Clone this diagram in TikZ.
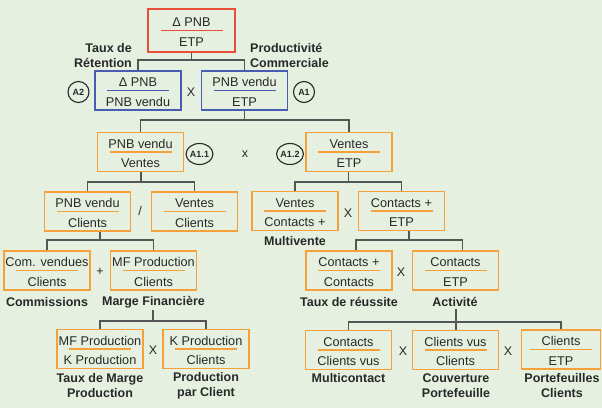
\documentclass[tikz,border=0pt]{standalone}
\usepackage{fontspec}
\setmainfont{Liberation Sans}
\usetikzlibrary{calc,shapes.geometric}
\definecolor{bg}{RGB}{230,240,225}
\definecolor{redb}{RGB}{232,78,58}
\definecolor{blueb}{RGB}{72,92,178}
\definecolor{orb}{RGB}{246,160,60}
\definecolor{connc}{RGB}{85,85,85}
\definecolor{txt}{RGB}{40,40,40}
\tikzset{
  box/.style={draw, line width=1.6pt, minimum width=86pt, minimum height=39pt, inner sep=0pt},
  num/.style={anchor=base, inner sep=0pt, font=\fontsize{12.7}{15}\selectfont, text=txt},
  lbl/.style={font=\fontsize{12.5}{15}\selectfont\bfseries, text=txt, align=center, inner sep=2pt},
  op/.style={font=\fontsize{12.5}{15}\selectfont, text=txt, inner sep=0pt},
  tag/.style={draw=txt, line width=1.1pt, ellipse, minimum width=23pt, minimum height=20pt, inner sep=0pt, font=\fontsize{9}{10}\selectfont\bfseries, text=txt},
  conn/.style={draw=connc, line width=1.3pt}
}
\newcommand{\ratiobox}[6][]{%
  \node[box, draw=#6, #1] (#2) at (#3) {};
  \draw[#6, line width=1.3pt] ($(#2.center)+(-31,0)$) -- ($(#2.center)+(31,0)$);
  \node[num] at ($(#2.center)+(0,-4)$) {#4};
  \node[num] at ($(#2.center)+(0,15.5)$) {#5};
}
\begin{document}
\begin{tikzpicture}[x=1pt,y=-1pt]
\fill[bg] (0,0) rectangle (602,408);
\useasboundingbox (0,0) rectangle (602,408);

% boxes
\ratiobox[minimum width=87pt, minimum height=43pt]{red}{191.5,30.5}{Δ PNB}{ETP}{redb}
\ratiobox{bL}{138,90.5}{Δ PNB}{PNB vendu}{blueb}
\ratiobox{bR}{244.5,90.5}{PNB vendu}{ETP}{blueb}
\ratiobox{o1}{140.5,152}{PNB vendu}{Ventes}{orb}
\ratiobox{o2}{349,152}{Ventes}{ETP}{orb}
\ratiobox{o3}{87.5,211.5}{PNB vendu}{Clients}{orb}
\ratiobox{o4}{194.5,211.5}{Ventes}{Clients}{orb}
\ratiobox{o5}{295,211}{Ventes}{Contacts +}{orb}
\ratiobox{o6}{401.5,211}{Contacts +}{ETP}{orb}
\ratiobox{o7}{47,270.5}{Com. vendues}{Clients}{orb}
\ratiobox{o8}{153.5,270.5}{MF Production}{Clients}{orb}
\ratiobox{o9}{349,270.5}{Contacts +}{Contacts}{orb}
\ratiobox{o10}{455.5,270.5}{Contacts}{ETP}{orb}
\ratiobox{o11}{100,349}{MF Production}{K Production}{orb}
\ratiobox{o12}{206,349}{K Production}{Clients}{orb}
\ratiobox{o13}{348.5,350}{Contacts}{Clients vus}{orb}
\ratiobox{o14}{455.5,350}{Clients vus}{Clients}{orb}
\ratiobox[minimum width=79pt]{o15}{561,349.5}{Clients}{ETP}{orb}

% labels
\node[lbl, align=right, anchor=east] (lret) at (134,55.5) {Taux de\\Rétention};
\node[lbl, align=left, anchor=west] (lprod) at (248,55.5) {Productivité\\Commerciale};
\node[lbl] (lmv) at (295,241) {Multivente};
\node[lbl] (lcom) at (47,302) {Commissions};
\node[lbl] (mf) at (153.5,302) {Marge Financière};
\node[lbl] (ltr) at (349,302) {Taux de réussite};
\node[lbl] (act) at (455,302) {Activité};
\node[lbl] (ltm) at (100,385.5) {Taux de Marge\\Production};
\node[lbl] (lpc) at (206,385.5) {Production\\par Client};
\node[lbl] (lmc) at (348.5,378) {Multicontact};
\node[lbl] (lcp) at (456,385.5) {Couverture\\Portefeuille};
\node[lbl] (lpf) at (562,385.5) {Portefeuilles\\Clients};

% operators
\node[op] (x1) at (191,92) {X};
\node[op] (x2) at (245,154) {x};
\node[op] (x3) at (140,211) {/};
\node[op] (x4) at (348,213) {X};
\node[op] (x5) at (100,272) {+};
\node[op] (x6) at (401,272) {X};
\node[op] (x7) at (153,350) {X};
\node[op] (x8) at (403,351) {X};
\node[op] (x9) at (508,351) {X};

% tags
\node[tag, minimum width=21pt, minimum height=21pt] (tA2) at (78.5,92) {A2};
\node[tag, minimum width=21pt, minimum height=21pt] (tA1) at (304,92) {A1};
\node[tag, minimum width=26pt, minimum height=21pt] (tA11) at (199.5,154) {A1.1};
\node[tag, minimum width=26pt, minimum height=21pt] (tA12) at (290,154) {A1.2};

% connectors
\coordinate (j1) at (191.5,60);
\draw[conn] (j1 |- red.south) -- (j1);
\draw[conn] (bL.north) |- (j1) -| (bR.north);

\coordinate (j2) at (244.5,120);
\draw[conn] (j2 |- bR.south) -- (j2);
\draw[conn] (o1.north) |- (j2) -| (o2.north);

\coordinate (j3) at (141,182);
\draw[conn] (j3 |- o1.south) -- (j3);
\draw[conn] (o3.north) |- (j3) -| (o4.north);

\coordinate (j4) at (348.5,182);
\draw[conn] (j4 |- o2.south) -- (j4);
\draw[conn] (o5.north) |- (j4) -| (o6.north);

\coordinate (j5) at (100,240);
\draw[conn] (j5 |- o3.south) -- (j5);
\draw[conn] (o7.north) |- (j5) -| (o8.north);

\coordinate (j6) at (409,240);
\coordinate (k9) at ($(o9.north)+(7,0)$);
\coordinate (k10) at ($(o10.north)+(7,0)$);
\draw[conn] (j6 |- o6.south) -- (j6);
\draw[conn] (k9) |- (j6) -| (k10);

\coordinate (j7) at (153,321);
\draw[conn] (j7 |- mf.south) -- (j7);
\draw[conn] (o11.north) |- (j7) -| (o12.north);

\coordinate (j8) at (456,322);
\draw[conn] (j8 |- act.south) -- (j8);
\draw[conn] (o13.north) |- (j8) -| (o15.north);
\draw[conn] (j8) -- (o14.north -| j8);
\end{tikzpicture}
\end{document}
